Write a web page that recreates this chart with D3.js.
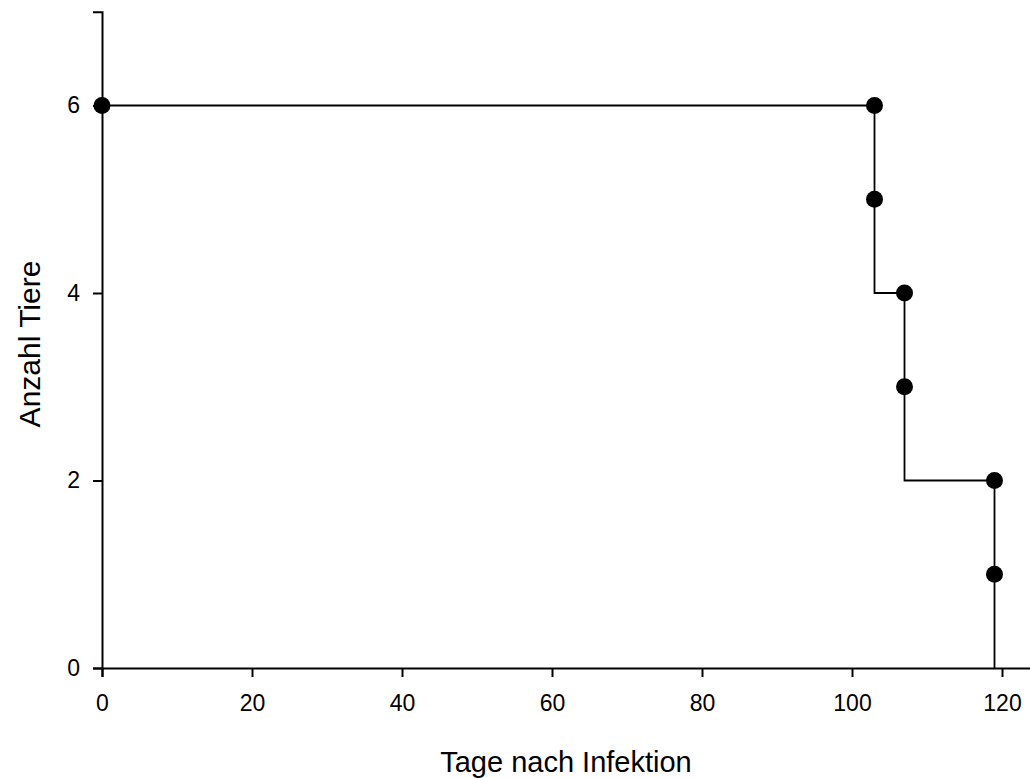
<!DOCTYPE html>
<html><head><meta charset="utf-8">
<script src="https://cdn.jsdelivr.net/npm/d3@7"></script>
<style>body{margin:0;background:#fff}text{font-family:Arial,"Liberation Sans",sans-serif}</style>
</head><body>
<svg id="c" width="1030" height="778"></svg>
<script>
const stepDays = [0, 103, 107, 119];
const stepCounts = [6, 4, 2, 0];
const markerDays = [0, 103, 103, 107, 107, 119, 119];
const markerCounts = [6, 6, 5, 4, 3, 2, 1];
const xTicks = [0, 20, 40, 60, 80, 100, 120];
const yTicks = [0, 2, 4, 6];
const xTitle = "Tage nach Infektion";
const yTitle = "Anzahl Tiere";

const svg = d3.select("#c");
const x = d3.scaleLinear().domain([0, 124]).range([102, 1032]);
const y = d3.scaleLinear().domain([0, 7]).range([668, 11.75]);

// step line
const pts = [];
stepDays.forEach((d, i) => {
  if (i > 0) pts.push([d, stepCounts[i - 1]]);
  pts.push([d, stepCounts[i]]);
});
svg.append("path")
  .attr("d", d3.line().x(d => x(d[0])).y(d => y(d[1]))(pts))
  .attr("fill", "none").attr("stroke", "#000").attr("stroke-width", 1.8);

// axes
const xAxis = svg.append("g").attr("transform", "translate(0,668)")
  .call(d3.axisBottom(x).tickValues(xTicks).tickFormat(d3.format("d")).tickSizeOuter(0).tickSize(9).tickPadding(18));
const yAxis = svg.append("g").attr("transform", "translate(102,0)")
  .call(d3.axisLeft(y).tickValues(yTicks).tickFormat(d3.format("d")).tickSizeOuter(0).tickSize(9).tickPadding(13));
[xAxis, yAxis].forEach(a => {
  a.attr("font-size", null);
  a.select(".domain").attr("stroke", "#000").attr("stroke-width", 2);
  a.selectAll(".tick line").attr("stroke", "#000").attr("stroke-width", 2);
  a.selectAll(".tick text").attr("fill", "#000").attr("font-size", 23).style("font-size", "23px")
    .style("font-family", "Arial, 'Liberation Sans', sans-serif");
});

// markers
svg.append("g").selectAll("circle").data(markerDays).join("circle")
  .attr("cx", d => x(d)).attr("cy", (d, i) => y(markerCounts[i]))
  .attr("r", 8.5).attr("fill", "#000");

// titles
svg.append("text").attr("x", 566).attr("y", 772).attr("text-anchor", "middle")
  .style("font-size", "29px").text(xTitle);
svg.append("text").attr("transform", "translate(40,344) rotate(-90)").attr("text-anchor", "middle")
  .style("font-size", "30px").text(yTitle);
</script>
</body></html>
